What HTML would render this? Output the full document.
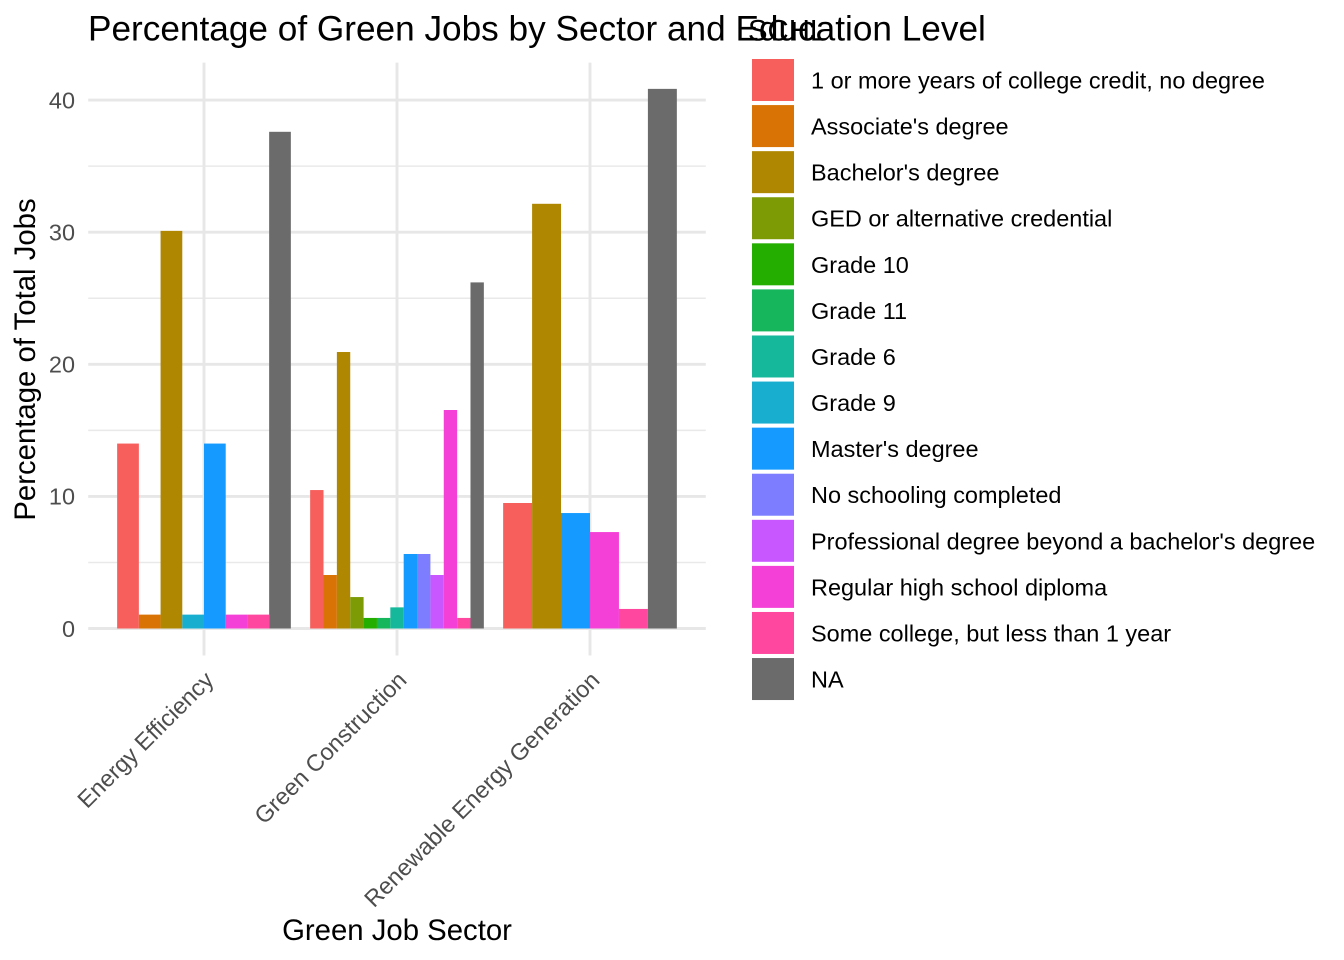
<!DOCTYPE html>
<html lang="en">
<head>
<meta charset="utf-8">
<title>Percentage of Green Jobs by Sector and Education Level</title>
<style>
html,body{margin:0;padding:0;background:#fff;}
svg{display:block;font-family:"Liberation Sans",Arial,sans-serif;}
</style>
</head>
<body>
<svg id="chart" xmlns="http://www.w3.org/2000/svg" width="1344" height="960" viewBox="0 0 1344 960">
  <rect x="0" y="0" width="1344" height="960" fill="#ffffff"/>
  <g id="grid"></g>
  <g id="bars"></g>
  <g id="yticks"></g>
  <g id="xticks"></g>
  <text x="88" y="40.6" font-size="35.2" fill="#000000">Percentage of Green Jobs by Sector and Education Level</text>
  <text transform="translate(35,359.5) rotate(-90)" text-anchor="middle" font-size="29.33" fill="#000000">Percentage of Total Jobs</text>
  <text x="397" y="940" text-anchor="middle" font-size="29.33" fill="#000000">Green Job Sector</text>
  <text x="748" y="40.6" font-size="29.33" fill="#000000">SCHL</text>
  <g id="legend"></g>
</svg>
<script>
const sectors = ["Energy Efficiency", "Green Construction", "Renewable Energy Generation"];
const levels = ["1 or more years of college credit, no degree", "Associate's degree", "Bachelor's degree", "GED or alternative credential", "Grade 10", "Grade 11", "Grade 6", "Grade 9", "Master's degree", "No schooling completed", "Professional degree beyond a bachelor's degree", "Regular high school diploma", "Some college, but less than 1 year", "NA"];
const energyEfficiency = [14.0, 1.05, 30.1, null, null, null, null, 1.05, 14.0, null, null, 1.05, 1.05, 37.6];
const greenConstruction = [10.48, 4.05, 20.93, 2.38, 0.8, 0.8, 1.6, null, 5.64, 5.64, 4.05, 16.54, 0.8, 26.2];
const renewableEnergy = [9.5, null, 32.15, null, null, null, null, null, 8.74, null, null, 7.3, 1.48, 40.85];
const yTicks = [0, 10, 20, 30, 40];
const yMinorTicks = [5, 15, 25, 35];
const palette = ["#F65F5C", "#DA7305", "#AF8700", "#7D9B05", "#24AE00", "#16B65C", "#16B89C", "#17AECF", "#159BFF", "#7C7EFF", "#C957FF", "#F540D8", "#FF479F", "#6B6B6B"];

const seriesBySector = [energyEfficiency, greenConstruction, renewableEnergy];
const NS = "http://www.w3.org/2000/svg";
const panel = { left: 88.2, right: 705.8, top: 62.6, bottom: 655.5 };
const xStep = (panel.right - panel.left) / 3.2;
const yUnit = 13.21;
const yZero = 628.5;
function xScale(index) { return panel.left + (index + 0.6) * xStep; }
function yScale(value) { return yZero - value * yUnit; }
function make(parent, tag, attrs) {
  const el = document.createElementNS(NS, tag);
  for (const k in attrs) el.setAttribute(k, attrs[k]);
  parent.appendChild(el);
  return el;
}

const grid = document.getElementById("grid");
yMinorTicks.forEach(function (t) {
  const line = make(grid, "line", { x1: panel.left, x2: panel.right, y1: yScale(t), y2: yScale(t), stroke: "#E9E9E9", "stroke-width": 1.5 });
  
  
});
yTicks.forEach(function (t) {
  const line = make(grid, "line", { x1: panel.left, x2: panel.right, y1: yScale(t), y2: yScale(t), stroke: "#E7E7E7", "stroke-width": 2.9 });
  
  
});
sectors.forEach(function (s, i) {
  const line = make(grid, "line", { x1: xScale(i), x2: xScale(i), y1: panel.top, y2: panel.bottom, stroke: "#E7E7E7", "stroke-width": 2.9 });
  
  
});

const barsGroup = document.getElementById("bars");
seriesBySector.forEach(function (series, s) {
  const present = [];
  series.forEach(function (v, l) { if (v !== null) present.push(l); });
  const total = xStep * 0.9;
  const w = total / present.length;
  const x0 = xScale(s) - total / 2;
  present.forEach(function (l, k) {
    const v = series[l];
    const bar = make(barsGroup, "rect", { x: x0 + k * w, y: yScale(v), width: w, height: yZero - yScale(v), fill: palette[l] });
    
    
  });
});

const yGroup = document.getElementById("yticks");
yTicks.forEach(function (t) {
  const label = make(yGroup, "text", { x: 75, y: yScale(t) + 8.3, "text-anchor": "end", "font-size": 23.47, fill: "#4D4D4D" });
  
  
  label.textContent = String(t);
});

const xGroup = document.getElementById("xticks");
sectors.forEach(function (name, i) {
  const tx = xScale(i) + 11;
  const label = make(xGroup, "text", { transform: "translate(" + tx + ",681.5) rotate(-45)", "text-anchor": "end", "font-size": 23.47, fill: "#4D4D4D" });
  
  
  label.textContent = name;
});

const legend = document.getElementById("legend");
levels.forEach(function (name, i) {
  const rowTop = 59 + i * 46.08;
  const key = make(legend, "rect", { x: 752, y: rowTop, width: 42, height: 42, fill: palette[i] });
  
  
  const label = make(legend, "text", { x: 811, y: rowTop + 29.5, "font-size": 23.47, fill: "#000000" });
  
  
  label.textContent = name;
});
</script>
</body>
</html>
